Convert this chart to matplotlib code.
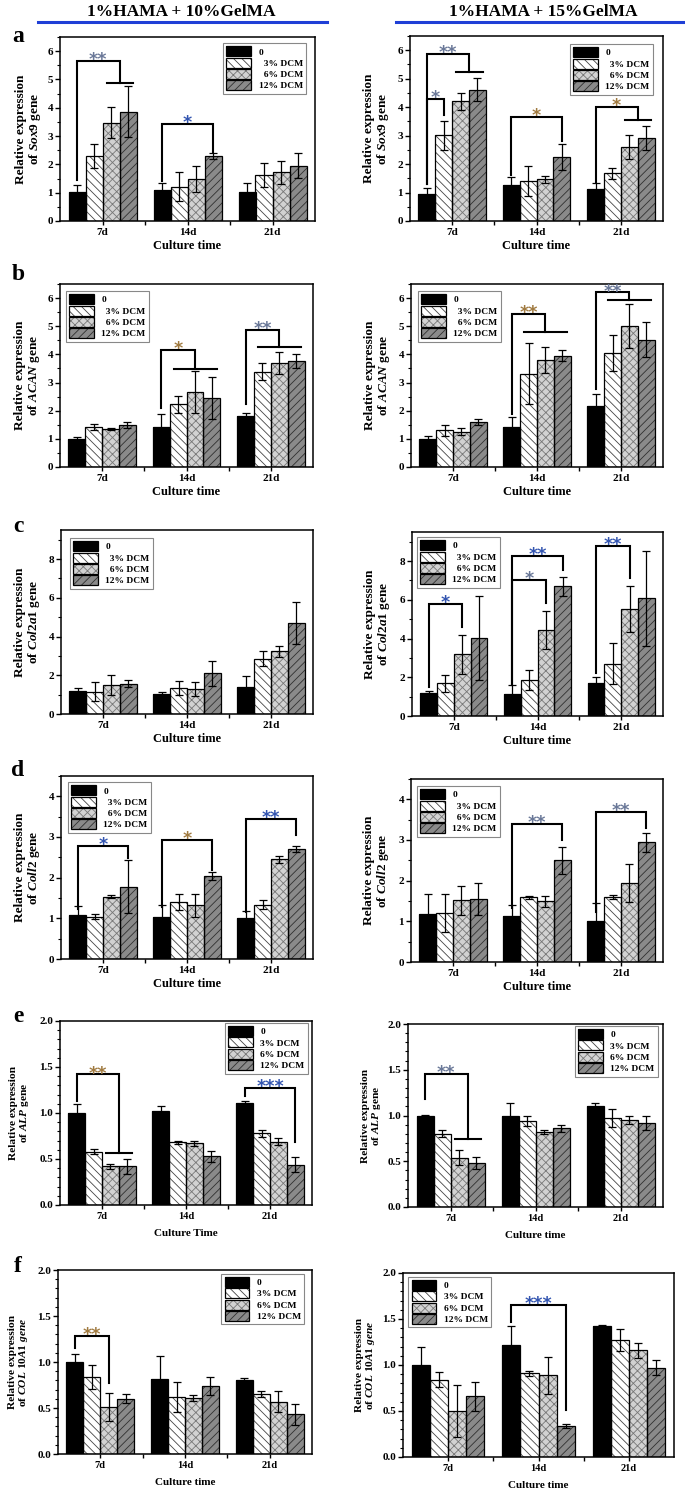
import matplotlib
matplotlib.use('Agg')
import matplotlib.pyplot as plt
import numpy as np
from matplotlib.patches import Patch
from matplotlib.lines import Line2D
from matplotlib.legend_handler import HandlerTuple
from matplotlib.ticker import AutoMinorLocator, FormatStrFormatter

plt.rcParams.update({
    'font.family': ['Liberation Serif', 'DejaVu Serif'],
    'font.weight': 'bold',
    'mathtext.fontset': 'custom',
    'mathtext.it': 'Liberation Serif:italic:bold',
    'mathtext.rm': 'Liberation Serif:bold',
    'mathtext.bf': 'Liberation Serif:bold',
    'hatch.linewidth': 0.6,
    'axes.linewidth': 1.1,
})

# ---------------- data (rows: 0, 3%, 6%, 12% DCM; cols: 7d, 14d, 21d) ----------------
days = ['7d', '14d', '21d']
series = ['0', '3% DCM', '6% DCM', '12% DCM']

sox9_10_mean = [[1.03, 1.10, 1.01], [2.29, 1.21, 1.62], [3.47, 1.47, 1.72], [3.86, 2.29, 1.96]]
sox9_10_err = [[0.25, 0.23, 0.34], [0.43, 0.51, 0.42], [0.55, 0.46, 0.41], [0.90, 0.10, 0.45]]
sox9_15_mean = [[0.95, 1.26, 1.12], [3.01, 1.40, 1.67], [4.20, 1.46, 2.60], [4.62, 2.24, 2.93]]
sox9_15_err = [[0.21, 0.29, 0.23], [0.50, 0.52, 0.18], [0.29, 0.12, 0.42], [0.39, 0.45, 0.42]]

acan_10_mean = [[1.00, 1.42, 1.81], [1.42, 2.22, 3.38], [1.35, 2.66, 3.70], [1.49, 2.45, 3.76]]
acan_10_err = [[0.08, 0.46, 0.12], [0.10, 0.30, 0.30], [0.03, 0.74, 0.39], [0.10, 0.74, 0.25]]
acan_15_mean = [[1.00, 1.43, 2.16], [1.30, 3.32, 4.05], [1.25, 3.80, 5.01], [1.60, 3.95, 4.52]]
acan_15_err = [[0.10, 0.33, 0.44], [0.19, 1.10, 0.65], [0.12, 0.47, 0.78], [0.10, 0.20, 0.63]]

col2a1_10_mean = [[1.17, 1.02, 1.38], [1.15, 1.33, 2.86], [1.50, 1.29, 3.24], [1.57, 2.10, 4.69]]
col2a1_10_err = [[0.16, 0.13, 0.56], [0.48, 0.37, 0.38], [0.50, 0.34, 0.29], [0.19, 0.63, 1.07]]
col2a1_15_mean = [[1.17, 1.15, 1.72], [1.68, 1.85, 2.71], [3.18, 4.45, 5.53], [4.04, 6.70, 6.07]]
col2a1_15_err = [[0.13, 0.45, 0.31], [0.46, 0.52, 1.08], [1.01, 0.98, 1.20], [2.17, 0.48, 2.45]]

coll2_10_mean = [[1.08, 1.04, 1.00], [1.04, 1.41, 1.34], [1.53, 1.32, 2.45], [1.78, 2.04, 2.71]]
coll2_10_err = [[0.23, 0.28, 0.18], [0.06, 0.20, 0.11], [0.04, 0.28, 0.08], [0.65, 0.10, 0.07]]
coll2_15_mean = [[1.19, 1.12, 1.00], [1.20, 1.59, 1.59], [1.52, 1.49, 1.94], [1.55, 2.50, 2.94]]
coll2_15_err = [[0.48, 0.27, 0.46], [0.47, 0.04, 0.05], [0.36, 0.14, 0.47], [0.39, 0.33, 0.24]]

alp_10_mean = [[1.00, 1.02, 1.11], [0.58, 0.68, 0.78], [0.42, 0.67, 0.69], [0.42, 0.53, 0.44]]
alp_10_err = [[0.10, 0.06, 0.02], [0.03, 0.02, 0.04], [0.03, 0.03, 0.04], [0.08, 0.06, 0.08]]
alp_15_mean = [[1.00, 1.00, 1.10], [0.80, 0.94, 0.97], [0.54, 0.82, 0.95], [0.48, 0.86, 0.92]]
alp_15_err = [[0.01, 0.14, 0.04], [0.04, 0.06, 0.10], [0.08, 0.02, 0.04], [0.07, 0.04, 0.08]]

col10_10_mean = [[1.00, 0.82, 0.80], [0.84, 0.62, 0.65], [0.51, 0.61, 0.57], [0.60, 0.74, 0.43]]
col10_10_err = [[0.09, 0.24, 0.03], [0.13, 0.16, 0.03], [0.15, 0.03, 0.11], [0.05, 0.10, 0.11]]
col10_15_mean = [[1.00, 1.22, 1.42], [0.84, 0.91, 1.27], [0.50, 0.89, 1.16], [0.66, 0.34, 0.97]]
col10_15_err = [[0.20, 0.20, 0.02], [0.08, 0.03, 0.12], [0.28, 0.20, 0.08], [0.16, 0.02, 0.08]]

# significance brackets: (day, from bar, (to bar first, to bar last), y leg start, y top, y right end, label, colour)
BL, GB, BR = '#3355b0', '#6a7898', '#a07a40'
sox9_10_sig = [(0, 0, (2, 3), 1.45, 5.66, 4.88, '**', GB), (1, 0, (3, 3), 1.40, 3.42, 2.45, '*', BL)]
sox9_15_sig = [(0, 0, (2, 3), 1.30, 5.88, 5.25, '**', GB), (0, 0, (1, 1), 1.30, 4.29, 3.74, '*', GB),
               (1, 0, (3, 3), 1.60, 3.66, 2.80, '*', BR), (2, 0, (2, 3), 1.38, 4.00, 3.56, '*', BR)]
acan_10_sig = [(1, 0, (1, 3), 2.10, 4.15, 3.49, '*', BR), (2, 0, (1, 3), 2.22, 4.88, 4.26, '**', GB)]
acan_15_sig = [(1, 0, (1, 3), 1.87, 5.43, 4.79, '**', BR), (2, 0, (1, 3), 2.78, 6.20, 5.92, '**', GB)]
col2a1_10_sig = []
col2a1_15_sig = [(0, 0, (2, 2), 1.50, 5.77, 4.60, '*', BL), (1, 0, (2, 2), 1.60, 7.01, 5.86, '*', GB),
                 (1, 0, (3, 3), 1.60, 8.25, 7.53, '**', BL), (2, 0, (2, 2), 2.20, 8.76, 7.10, '**', BL)]
coll2_10_sig = [(0, 0, (3, 3), 1.22, 2.78, 2.49, '*', BL), (1, 0, (3, 3), 1.27, 2.92, 2.18, '*', BR),
                (2, 0, (3, 3), 1.16, 3.45, 3.04, '**', BL)]
coll2_15_sig = [(1, 0, (3, 3), 1.32, 3.39, 3.00, '**', GB), (2, 0, (3, 3), 1.24, 3.70, 3.30, '**', GB)]
alp_10_sig = [(0, 0, (2, 3), 1.13, 1.42, 0.57, '**', BR), (2, 0, (3, 3), 1.18, 1.27, 0.69, '***', BL)]
alp_15_sig = [(0, 0, (2, 3), 1.18, 1.45, 0.74, '**', GB)]
col10_10_sig = [(0, 0, (2, 2), 1.15, 1.28, 0.77, '**', BR)]
col10_15_sig = [(1, 0, (3, 3), 1.47, 1.65, 0.51, '***', BL)]

# ---------------- figure ----------------
W, H = 685, 1492
fig = plt.figure(figsize=(W / 100, H / 100), dpi=100)


def add_axes_px(l, t, r, b):
    return fig.add_axes([l / W, 1 - b / H, (r - l) / W, (b - t) / H])


STY = [
    dict(face='black', hatch=None, hc='black'),
    dict(face='white', hatch='\\\\\\\\', hc='#444444'),
    dict(face='#d2d2d2', hatch='xxxx', hc='#777777'),
    dict(face='#8a8a8a', hatch='////', hc='#303030'),
]
OFFS = [-0.3, -0.1, 0.1, 0.3]
BWID = 0.2


def bar_x(day, i):
    return day + 0.5 + OFFS[i]


def draw_panel(px, mean, err, sig, ylim, yticks, yfmt, ylabel, xlabel, leg_loc, leg_anchor,
               indent, ylab_gap, ylab_fs, minor_n, xt_fs=8, xl_fs=9, xl_pad=2):
    ax = add_axes_px(*px)
    x0 = np.arange(len(days)) + 0.5
    for i, st in enumerate(STY):
        x = x0 + OFFS[i]
        ax.bar(x, mean[i], BWID, color=st['face'], hatch=st['hatch'], edgecolor=st['hc'],
               linewidth=0, zorder=2)
        ax.bar(x, mean[i], BWID, fill=False, edgecolor='black', linewidth=0.9, zorder=3)
        ax.errorbar(x, mean[i], yerr=err[i], fmt='none', ecolor='black', elinewidth=0.9,
                    capsize=2.8, capthick=0.9, zorder=4)
    for (d, a, (j, k), yl, yt, yr, lab, col) in sig:
        xl = bar_x(d, a)
        xr = (bar_x(d, j) + bar_x(d, k)) / 2
        ax.plot([xl, xl, xr, xr], [yl, yt, yt, yr], color='black', lw=1.5, zorder=5,
                solid_joinstyle='miter', clip_on=False)
        if j != k:
            ax.plot([bar_x(d, j) - 0.05, bar_x(d, k) + 0.06], [yr, yr], color='black', lw=1.5,
                    zorder=5, clip_on=False)
        ax.annotate(lab, ((xl + xr) / 2, yt), xytext=(0, -3.0), textcoords='offset points',
                    ha='center', va='baseline', fontsize=12.5, color=col,
                    family='DejaVu Sans', fontweight='bold', zorder=6, annotation_clip=False)
    ax.set_xlim(0, 3)
    ax.set_ylim(*ylim)
    ax.set_xticks(x0)
    ax.set_xticklabels(days, fontsize=xt_fs, fontweight='bold')
    ax.set_xticks([1, 2], minor=True)
    ax.set_yticks(yticks)
    ax.yaxis.set_major_formatter(FormatStrFormatter(yfmt))
    ax.yaxis.set_minor_locator(AutoMinorLocator(minor_n))
    ax.tick_params(axis='y', which='major', direction='out', length=3.5, width=1,
                   labelsize=8, pad=1.5)
    ax.tick_params(axis='y', which='minor', direction='out', length=2, width=0.8)
    ax.tick_params(axis='x', which='both', direction='out', length=3, width=1, pad=2)
    for lab in ax.get_yticklabels():
        lab.set_fontweight('bold')
    ax.set_xlabel(xlabel, fontsize=xl_fs, fontweight='bold', labelpad=xl_pad)
    ax.set_ylabel(ylabel, fontsize=ylab_fs, fontweight='bold', linespacing=1.0)
    wpx = px[2] - px[0]
    ax.yaxis.set_label_coords(-ylab_gap / wpx, 0.5)
    handles = []
    for st in STY:
        p1 = Patch(facecolor=st['face'], hatch=st['hatch'], edgecolor=st['hc'], linewidth=0)
        p2 = Patch(fill=False, edgecolor='black', linewidth=0.9)
        handles.append((p1, p2))
    labels = [('  ' + s if indent and s.startswith(('3', '6')) else s) for s in series]
    leg = ax.legend(handles, labels, loc=leg_loc, bbox_to_anchor=leg_anchor, borderaxespad=0,
                    frameon=True, fancybox=False, edgecolor='#888888', framealpha=1,
                    handlelength=2.6, handleheight=1.25, labelspacing=0.12, handletextpad=0.8,
                    borderpad=0.35, handler_map={tuple: HandlerTuple(ndivide=1)},
                    prop=dict(family='Liberation Serif', weight='bold', size=6.8))
    leg.get_frame().set_linewidth(0.8)
    return ax


LAB = 'Relative expression\nof $\\mathit{%s}$ gene'
LAB_F = 'Relative expression\nof $\\mathit{COL\\ 10A1\\ gene}$'
CT = 'Culture time'
ALPT = [0, 0.5, 1.0, 1.5, 2.0]

draw_panel((60, 37, 315, 221), sox9_10_mean, sox9_10_err, sox9_10_sig, (0, 6.5), range(0, 7), '%d',
           LAB % 'Sox9', CT, 'upper right', (0.965, 0.967), True, 17, 9.5, 2)
draw_panel((410, 36, 663, 221), sox9_15_mean, sox9_15_err, sox9_15_sig, (0, 6.5), range(0, 7), '%d',
           LAB % 'Sox9', CT, 'upper right', (0.96, 0.957), True, 19, 9.5, 2)
draw_panel((60, 284, 313, 467), acan_10_mean, acan_10_err, acan_10_sig, (0, 6.5), range(0, 7), '%d',
           LAB % 'ACAN', CT, 'upper left', (0.024, 0.962), True, 18, 9.5, 2)
draw_panel((411, 284, 663, 467), acan_15_mean, acan_15_err, acan_15_sig, (0, 6.5), range(0, 7), '%d',
           LAB % 'ACAN', CT, 'upper left', (0.028, 0.962), True, 19, 9.5, 2)
draw_panel((61, 530, 313, 714), col2a1_10_mean, col2a1_10_err, col2a1_10_sig, (0, 9.5), range(0, 9, 2), '%d',
           LAB % 'Col2a1', CT, 'upper left', (0.036, 0.957), True, 19, 9.5, 2)
draw_panel((412, 532, 663, 716), col2a1_15_mean, col2a1_15_err, col2a1_15_sig, (0, 9.5), range(0, 9, 2), '%d',
           LAB % 'Col2a1', CT, 'upper left', (0.02, 0.973), True, 20, 9.5, 2)
draw_panel((61, 776, 313, 959), coll2_10_mean, coll2_10_err, coll2_10_sig, (0, 4.5), range(0, 5), '%d',
           LAB % 'Coll2', CT, 'upper left', (0.028, 0.967), True, 19, 9.5, 2)
draw_panel((411, 779, 663, 962), coll2_15_mean, coll2_15_err, coll2_15_sig, (0, 4.5), range(0, 5), '%d',
           LAB % 'Coll2', CT, 'upper left', (0.024, 0.962), True, 20, 9.5, 2)
draw_panel((60, 1021, 312, 1205), alp_10_mean, alp_10_err, alp_10_sig, (0, 2.0), ALPT, '%.1f',
           LAB % 'ALP', 'Culture Time', 'upper right', (0.984, 0.99), False, 29, 8.2, 5,
           xt_fs=7.5, xl_fs=8, xl_pad=6)
draw_panel((408, 1024, 663, 1207), alp_15_mean, alp_15_err, alp_15_sig, (0, 2.0), ALPT, '%.1f',
           LAB % 'ALP', CT, 'upper right', (0.98, 0.99), False, 25, 8.2, 5,
           xt_fs=7.5, xl_fs=8, xl_pad=6)
draw_panel((58, 1270, 312, 1454), col10_10_mean, col10_10_err, col10_10_sig, (0, 2.0), ALPT, '%.1f',
           LAB_F, CT, 'upper right', (0.97, 0.98), False, 28, 8.2, 5,
           xt_fs=7.5, xl_fs=8, xl_pad=6)
draw_panel((403, 1273, 674, 1457), col10_15_mean, col10_15_err, col10_15_sig, (0, 2.0), ALPT, '%.1f',
           LAB_F, CT, 'upper left', (0.02, 0.98), False, 26, 8.2, 5,
           xt_fs=7.5, xl_fs=8, xl_pad=6)

# headers
for txt, cx, x0, x1 in [('1%HAMA + 10%GelMA', 181, 38, 327), ('1%HAMA + 15%GelMA', 543, 396, 685)]:
    fig.text(cx / W, 1 - 12 / H, txt, ha='center', va='center', fontsize=12.5, fontweight='bold')
    fig.add_artist(Line2D([x0 / W, x1 / W], [1 - 22 / H, 1 - 22 / H], transform=fig.transFigure,
                          color='#1f3fd6', lw=2.2))

# panel letters
for letter, y in [('a', 37), ('b', 275), ('c', 526), ('d', 771), ('e', 1017), ('f', 1266)]:
    fig.text(18 / W, 1 - y / H, letter, ha='center', va='center', fontsize=17, fontweight='bold')

fig.savefig('out.png', dpi=100)
